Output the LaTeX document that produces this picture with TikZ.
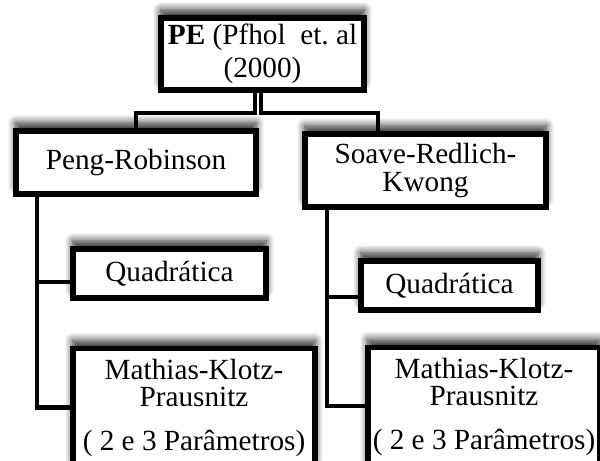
\documentclass[tikz,border=0pt]{standalone}
\usepackage{fontspec}
\setmainfont{Liberation Serif}
\usetikzlibrary{shadows.blur}
\tikzset{ebox/.style={draw,black,line width=3.9pt,fill=white,align=center,inner sep=0pt,font=\fontsize{20.8}{19.5}\selectfont,blur shadow={shadow xshift=0cm,shadow yshift=0.2cm,shadow blur radius=0.2cm,shadow blur steps=10,shadow opacity=85}}}
\tikzset{eline/.style={black,line width=3.2pt}}

\begin{document}
\begin{tikzpicture}
				      % fix the frame
				      \useasboundingbox (0,0) rectangle (15,-11.525);
				      % draw the boxes
				      \node[ebox,minimum width=5.085cm,minimum height=1.81cm] (pe) at (6.5625,-1.35) {\textbf{PE} (Pfhol\ \ et.\ al\\[4pt](2000)};
				      \node[ebox,minimum width=6.01cm,minimum height=1.585cm] (peng) at (3.4,-4.0625) {Peng-Robinson};
				      \node[ebox,minimum width=6.035cm,minimum height=1.835cm] (soave) at (10.6375,-4.2625) {Soave-Redlich-\\Kwong};
				      \node[ebox,minimum width=4.835cm,minimum height=1.235cm] (quadL) at (4.2375,-6.8375) {Quadrática};
				      \node[ebox,minimum width=4.435cm,minimum height=1.235cm] (quadR) at (11.2375,-7.1375) {Quadrática};
				      \node[ebox,anchor=north,minimum width=6.06cm,inner ysep=0.26cm] (mathL) at (4.85,-8.645) {Mathias-Klotz-\\Prausnitz\\[11.8pt]( 2 e 3 Parâmetros)};
				      \node[ebox,anchor=north,minimum width=5.81cm,inner ysep=0.26cm] (mathR) at (12.1,-8.615) {Mathias-Klotz-\\Prausnitz\\[11.8pt]( 2 e 3 Parâmetros)};
				      % draw the connectors (top level)
				      \draw[eline] ([xshift=-0.19cm]pe.south) -- ++(0,-0.5) -| (peng.north);
				      \draw[eline] ([xshift=-0.04cm]pe.south) -- ++(0,-0.5) -| ([xshift=-1.19cm]soave.north);
				      % draw the connectors (left trunk)
				      \draw[eline] ([xshift=0.6cm]peng.south west) |- ([yshift=-0.21cm]quadL.west);
				      \draw[eline] ([xshift=0.6cm]peng.south west) |- ([yshift=-1.54cm]mathL.north west);
				      % draw the connectors (right trunk)
				      \draw[eline] ([xshift=0.625cm]soave.south west) |- ([yshift=-0.29cm]quadR.west);
				      \draw[eline] ([xshift=0.625cm]soave.south west) |- ([yshift=-1.54cm]mathR.north west);
			      \end{tikzpicture}
\end{document}
